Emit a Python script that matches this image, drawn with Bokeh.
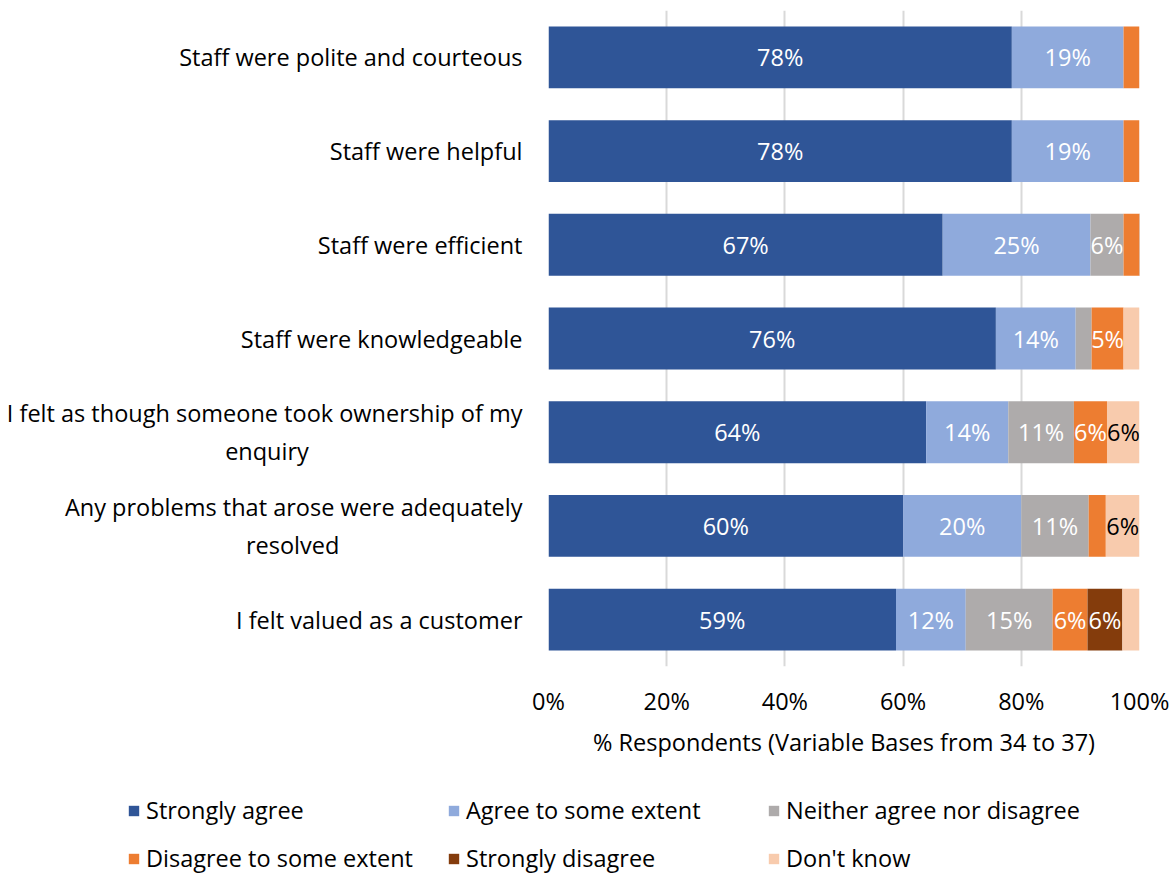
from bokeh.plotting import figure
from bokeh.layouts import column
from bokeh.models import (Range1d, FixedTicker, PrintfTickFormatter, Legend,
                          LegendItem, ColumnDataSource)
from bokeh.embed import file_html
from bokeh.resources import INLINE
from bokeh.core.properties import value

NB = "\u00a0"
categories = [
    "Staff were polite and courteous",
    "Staff were helpful",
    "Staff were efficient",
    "Staff were knowledgeable",
    "I felt as though someone took ownership of my\nenquiry" + NB * 35,
    "Any problems that arose were adequately\nresolved" + NB * 30,
    "I felt valued as a customer",
]
series_names = ["Strongly agree", "Agree to some extent", "Neither agree nor disagree",
                "Disagree to some extent", "Strongly disagree", "Don't know"]
strongly_agree = [78.4, 78.4, 66.7, 75.7, 63.9, 60.0, 58.8]
agree = [18.9, 18.9, 25.0, 13.5, 13.9, 20.0, 11.8]
neither = [0.0, 0.0, 5.6, 2.7, 11.1, 11.4, 14.7]
disagree = [2.7, 2.7, 2.8, 5.4, 5.6, 2.9, 5.9]
strongly_disagree = [0.0, 0.0, 0.0, 0.0, 0.0, 0.0, 5.9]
dont_know = [0.0, 0.0, 0.0, 2.7, 5.6, 5.7, 2.9]
x_ticks = [0, 20, 40, 60, 80, 100]
x_title = "% Respondents (Variable Bases from 34 to 37)"

colors = ["#2F5597", "#8FAADC", "#AEABAB", "#ED7D31", "#843C0C", "#F8CBAD"]
label_colors = ["white", "white", "white", "white", "white", "black"]
FONT = "Open Sans"
FS = "23.5px"

series = [strongly_agree, agree, neither, disagree, strongly_disagree, dont_know]
keys = ["s%d" % i for i in range(len(series))]
rows = list(range(len(categories)))
data = {"row": rows}
for k, s in zip(keys, series):
    data[k] = s
source = ColumnDataSource(data)

p = figure(width=1174, height=770, x_range=Range1d(0, 100), y_range=Range1d(6.5, -0.5),
           output_backend="svg", toolbar_location=None,
           min_border_left=548, min_border_right=35, min_border_top=10, min_border_bottom=104)
p.outline_line_color = None
p.background_fill_color = "white"

p.hbar_stack(keys, y="row", height=0.66, color=colors, source=source, line_color=None)

# data labels
lx, ly, lt, lc = [], [], [], []
for i in rows:
    cum = 0.0
    for j, s in enumerate(series):
        v = s[i]
        if v >= 4:
            lx.append(cum + v / 2)
            ly.append(i)
            lt.append("%d%%" % round(v))
            lc.append(label_colors[j])
        cum += v
p.text(x=lx, y=ly, text=lt, text_color=lc, text_align="center", text_baseline="middle",
       text_font=value(FONT), text_font_size=FS)

# axes
p.xaxis.ticker = FixedTicker(ticks=x_ticks)
p.xaxis.formatter = PrintfTickFormatter(format="%d%%")
p.xaxis.axis_line_color = None
p.xaxis.major_tick_line_color = None
p.xaxis.minor_tick_line_color = None
p.xaxis.major_tick_out = 0
p.xaxis.major_tick_in = 0
p.xaxis.major_label_standoff = 18
p.xaxis.major_label_text_font = FONT
p.xaxis.major_label_text_font_size = FS
p.xaxis.major_label_text_color = "black"
p.xaxis.axis_label = x_title
p.xaxis.axis_label_text_font = FONT
p.xaxis.axis_label_text_font_size = FS
p.xaxis.axis_label_text_font_style = "normal"
p.xaxis.axis_label_text_color = "black"
p.xaxis.axis_label_standoff = 6

p.yaxis.ticker = FixedTicker(ticks=rows)
p.yaxis.major_label_overrides = {i: c for i, c in enumerate(categories)}
p.yaxis.axis_line_color = None
p.yaxis.major_tick_line_color = None
p.yaxis.minor_tick_line_color = None
p.yaxis.major_tick_out = 0
p.yaxis.major_tick_in = 0
p.yaxis.major_label_standoff = 26
p.yaxis.major_label_text_font = FONT
p.yaxis.major_label_text_font_size = FS
p.yaxis.major_label_text_color = "black"

p.ygrid.visible = False
p.xgrid.ticker = FixedTicker(ticks=x_ticks)
p.xgrid.grid_line_color = "#D9D9D9"
p.xgrid.grid_line_width = 2

# legend figure
pl = figure(width=1174, height=105, x_range=Range1d(0, 100), y_range=Range1d(100, 101),
            output_backend="svg", toolbar_location=None,
            min_border_left=0, min_border_right=0, min_border_top=0, min_border_bottom=0)
pl.axis.visible = False
pl.grid.visible = False
pl.outline_line_color = None
for fig in (p, pl):
    try:
        fig.frame_align = False
    except Exception:
        pass
leg_r = pl.hbar_stack(keys, y="row", height=0.66, color=colors, source=source, line_color=None)

legend = Legend(items=[LegendItem(label=n, renderers=[r]) for n, r in zip(series_names, leg_r)],
                ncols=3, location=(127, 1), orientation="horizontal",
                glyph_width=13, glyph_height=13, label_standoff=6, label_width=285,
                label_height=30, spacing=16, padding=0, margin=0,
                border_line_color=None, background_fill_alpha=0,
                label_text_font=FONT, label_text_font_size=FS, label_text_color="black")
pl.add_layout(legend, "center")

open("out.html", "w").write(file_html(column(p, pl, spacing=0), INLINE))
